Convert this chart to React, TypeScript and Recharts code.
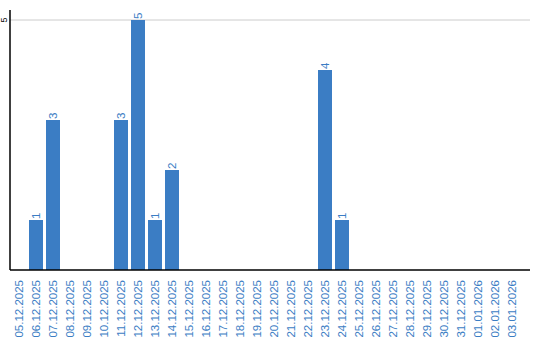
import * as React from "react";
import { BarChart, Bar, XAxis, YAxis, CartesianGrid, LabelList } from "recharts";

const dates = [
  "05.12.2025", "06.12.2025", "07.12.2025", "08.12.2025", "09.12.2025",
  "10.12.2025", "11.12.2025", "12.12.2025", "13.12.2025", "14.12.2025",
  "15.12.2025", "16.12.2025", "17.12.2025", "18.12.2025", "19.12.2025",
  "20.12.2025", "21.12.2025", "22.12.2025", "23.12.2025", "24.12.2025",
  "25.12.2025", "26.12.2025", "27.12.2025", "28.12.2025", "29.12.2025",
  "30.12.2025", "31.12.2025", "01.01.2026", "02.01.2026", "03.01.2026",
];
const counts = [0, 1, 3, 0, 0, 0, 3, 5, 1, 2, 0, 0, 0, 0, 0, 0, 0, 0, 4, 1, 0, 0, 0, 0, 0, 0, 0, 0, 0, 0];
const yTicks = [5];

const BLUE = "#3b7dc4";
const FONT = "'Liberation Sans', Arial, sans-serif";

const data = dates.map((d, i) => ({ date: d, count: counts[i] }));

function XTick({ x, y, payload }: any) {
  return (
    <text
      transform={`translate(${x + 4},${y + 2}) rotate(-90)`}
      textAnchor="end"
      fontSize={11.5}
      fontFamily={FONT}
      fill={BLUE}
    >
      {payload.value}
    </text>
  );
}

function YTick({ y, payload }: any) {
  return (
    <text
      transform={`translate(7,${y}) rotate(-90)`}
      textAnchor="middle"
      fontSize={9}
      fontFamily={FONT}
      fill="#000"
    >
      {payload.value}
    </text>
  );
}

function BarLabel({ x, y, width, value }: any) {
  if (!value) return null;
  const cx = x + width / 2 + 4;
  return (
    <text
      transform={`translate(${cx},${y - 1}) rotate(-90)`}
      textAnchor="start"
      fontSize={11.5}
      fontFamily={FONT}
      fill={BLUE}
    >
      {value}
    </text>
  );
}

export default function App() {
  return (
    <div style={{ position: "absolute", left: 0, top: 0, background: "#fff" }}>
      <BarChart
        width={540}
        height={340}
        data={data}
        margin={{ top: 10, right: 10, left: 0, bottom: 0 }}
        barSize={14}
      >
        <CartesianGrid vertical={false} stroke="#cccccc" horizontalValues={yTicks} />
        <XAxis
          dataKey="date"
          interval={0}
          height={70}
          tick={<XTick />}
          tickLine={false}
          axisLine={{ stroke: "#000", strokeWidth: 1.5 }}
          padding={{ left: 0, right: 10 }}
        />
        <YAxis
          width={10}
          domain={[0, 5.2]}
          ticks={yTicks}
          tick={<YTick />}
          tickLine={false}
          axisLine={{ stroke: "#000", strokeWidth: 1.5 }}
        />
        <Bar dataKey="count" fill={BLUE} isAnimationActive={false}>
          <LabelList dataKey="count" content={<BarLabel />} />
        </Bar>
      </BarChart>
    </div>
  );
}
